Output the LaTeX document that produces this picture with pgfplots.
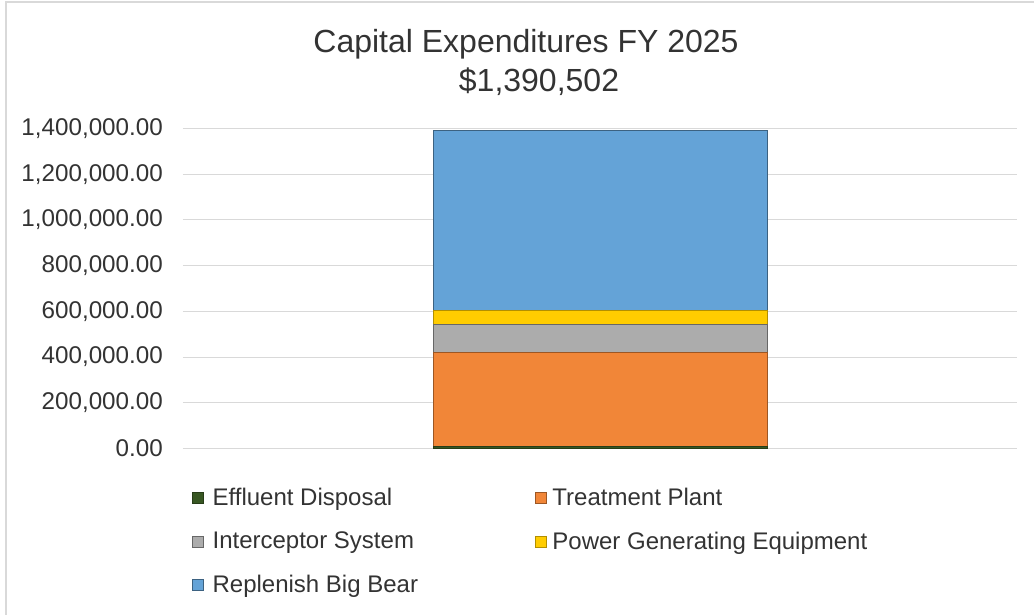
\documentclass[border=0pt]{standalone}
\usepackage{fontspec}
\setmainfont{Liberation Sans}
\usepackage{pgfplots}
\pgfplotsset{compat=1.18}
\definecolor{cGreen}{RGB}{56,87,35}
\definecolor{cOrange}{RGB}{241,134,56}
\definecolor{cGray}{RGB}{172,172,172}
\definecolor{cGold}{RGB}{255,204,0}
\definecolor{cBlue}{RGB}{100,163,215}
\definecolor{txt}{RGB}{51,51,51}
\definecolor{gridc}{RGB}{217,217,217}
\begin{document}
\begin{tikzpicture}[x=1pt,y=1pt]
\path[use as bounding box] (0,0) rectangle (1034,615);
\draw[gridc, line width=1.5pt] (6,0) -- (6,613) -- (1034,613);
\begin{axis}[
  at={(183pt,166.5pt)}, anchor=south west,
  scale only axis, width=834pt, height=320pt,
  ybar stacked, bar width=334pt,
  xmin=-0.5, xmax=0.5, ymin=0, ymax=1400000,
  xtick=\empty,
  ytick={0,200000,400000,600000,800000,1000000,1200000,1400000},
  axis line style={draw=none},
  ymajorgrids, grid style={gridc, line width=1pt},
  major tick style={draw=none},
  scaled y ticks=false,
  yticklabel style={/pgf/number format/fixed, /pgf/number format/fixed zerofill, /pgf/number format/precision=2, /pgf/number format/1000 sep={,}, /pgf/number format/assume math mode=true},
  yticklabel style={font=\fontsize{24.2}{28}\selectfont, text=txt, inner sep=0pt, xshift=-20pt},
  legend columns=2,
  legend cell align=left,
  legend image code/.code={\draw[#1] (0pt,-5.5pt) rectangle (11pt,5.5pt);},
  legend style={at={(axis description cs:0.0108,-0.124)}, anchor=north west,
    draw=none, fill=none, inner sep=0pt, font=\fontsize{24}{28}\selectfont, text=txt,
    nodes={inner xsep=4pt, inner ysep=0pt},
    row sep=24.5pt,
    /tikz/column 1/.style={column sep=5pt},
    /tikz/column 2/.style={column sep=113pt},
    /tikz/column 3/.style={column sep=2pt}},
]
\addplot[fill=cGreen, draw=cGreen!70!black] coordinates {(0,10000)};
\addplot[fill=cOrange, draw=cOrange!65!black] coordinates {(0,410000)};
\addplot[fill=cGray, draw=cGray!60!black] coordinates {(0,122000)};
\addplot[fill=cGold, draw=cGold!70!black] coordinates {(0,65000)};
\addplot[fill=cBlue, draw=cBlue!60!black] coordinates {(0,783502)};
\legend{Effluent Disposal, Treatment Plant, Interceptor System, Power Generating Equipment, Replenish Big Bear}
\end{axis}
\node[anchor=base, font=\fontsize{32}{38}\selectfont, text=txt] at (526,562.5) {Capital Expenditures FY 2025};
\node[anchor=base, font=\fontsize{32}{38}\selectfont, text=txt] at (539,523.3) {\$1,390,502};
\end{tikzpicture}
\end{document}
